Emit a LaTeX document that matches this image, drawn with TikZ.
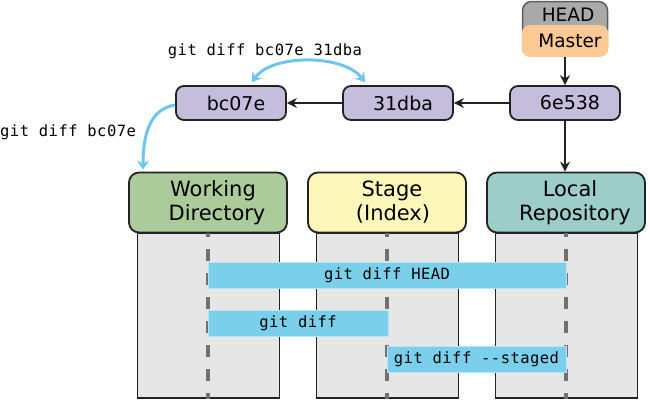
\documentclass[tikz,border=0pt]{standalone}
\usepackage{fontspec}
\setmainfont{DejaVu Sans}
\newfontfamily\monof[LetterSpace=3]{DejaVu Sans Mono}
\usetikzlibrary{arrows.meta}
\definecolor{linedark}{HTML}{222222}
\definecolor{headfill}{HTML}{A9A9A9}
\definecolor{headline}{HTML}{5E5E5E}
\definecolor{masterfill}{HTML}{FDC995}
\definecolor{commitfill}{HTML}{C5BDDC}
\definecolor{wdfill}{HTML}{ACCB9B}
\definecolor{stagefill}{HTML}{FDF7BA}
\definecolor{localfill}{HTML}{9CCDC8}
\definecolor{colfill}{HTML}{E6E6E6}
\definecolor{dashgray}{HTML}{707070}
\definecolor{barblue}{HTML}{7ACFEA}
\definecolor{arrowblue}{HTML}{6EC6EE}
\begin{document}
\begin{tikzpicture}[x=1pt,y=-1pt,
  commit/.style={draw=linedark, line width=1.8pt, fill=commitfill, rounded corners=8pt,
    minimum width=110pt, minimum height=34pt, inner sep=0pt, font=\fontsize{19}{22}\selectfont},
  hdr/.style={draw=linedark, line width=1.8pt, rounded corners=10pt, minimum width=158pt,
    minimum height=60pt, inner sep=0pt, align=center, font=\fontsize{21}{24}\selectfont},
  colbox/.style={draw=linedark, line width=1.6pt, fill=colfill, minimum width=142pt,
    minimum height=165pt, inner sep=0pt},
  bar/.style={fill=barblue, draw=barblue!55!white, line width=0.8pt, minimum height=26pt,
    inner sep=0pt, font=\monof\fontsize{15.5}{18}\selectfont},
  dashline/.style={draw=dashgray, line width=3.6pt, dash pattern=on 12pt off 12pt, dash phase=8pt},
  blk/.style={draw=linedark, line width=1.8pt, -{Stealth[length=10pt,width=10pt]}},
  blu/.style={draw=arrowblue, line width=3pt},
  lbl/.style={inner sep=0pt, font=\monof\fontsize{15.5}{18}\selectfont}
]
\useasboundingbox (0,0) rectangle (650,400);

% columns
\node[colbox] (wdcol) at (208.5,315.5) {};
\node[colbox] (stcol) at (387.5,315.5) {};
\node[colbox] (lrcol) at (566.5,315.5) {};

% headers
\node[hdr, fill=wdfill] (wd) at (208,202.5) {\hspace*{10pt}Working\\\hspace*{18pt}Directory};
\node[hdr, fill=stagefill] (st) at (387,202.5) {\hspace*{10pt}Stage\\\hspace*{12pt}(Index)};
\node[hdr, fill=localfill] (lr) at (566,202.5) {\hspace*{8pt}Local\\\hspace*{18pt}Repository};

% dashed lines
\draw[dashline] (wd.south) -- (wd.south |- wdcol.south);
\draw[dashline] (st.south) -- (st.south |- stcol.south);
\draw[dashline] (lr.south) -- (lr.south |- lrcol.south);

% bars
\node[bar, minimum width=358pt] (bhead) at (387,275.7) {git diff HEAD};
\node[bar, minimum width=180pt] (bdiff) at (298,323) {git diff};
\node[bar, minimum width=179pt] (bstaged) at (476.5,359.7) {git diff -{}-staged};

% HEAD / Master
\node[draw=headline, line width=1.5pt, fill=headfill, rounded corners=9pt, minimum width=85pt,
  minimum height=38pt, inner sep=0pt] (head) at (565,20.5) {};
\node[fill=masterfill, rounded corners=9pt, minimum width=87pt, minimum height=32pt,
  inner sep=0pt, font=\fontsize{18.5}{22}\selectfont] (master) at (565,41) {\hspace*{10pt}Master};
\node[inner sep=0pt, font=\fontsize{18.5}{22}\selectfont] (headtxt) at (568,14.5) {HEAD};

% commits
\node[commit] (c3) at (565,103) {\hspace*{10pt}6e538};
\node[commit] (c2) at (398,103) {\hspace*{10pt}31dba};
\node[commit] (c1) at (231,103) {\hspace*{10pt}bc07e};

% black arrows
\draw[blk] (master.south) -- (master.south |- c3.north);
\draw[blk] (c3.west) -- (c2.east);
\draw[blk] (c2.west) -- (c1.east);
\draw[blk] (c3.south) -- (c3.south |- lr.north);

% blue arrows
\draw[blu, {Stealth[length=9pt,width=12pt]}-{Stealth[length=9pt,width=12pt]}]
  ([xshift=21pt,yshift=3pt]c1.north) .. controls (272,54) and (343,54) .. ([xshift=-33pt,yshift=3pt]c2.north);
\draw[blu, -{Stealth[length=9pt,width=12pt]}]
  ([yshift=-2pt]c1.west) .. controls (156,108) and (143,124) .. ([xshift=-65pt,yshift=2pt]wd.north);

% labels
\node[lbl] (l1) at (265,51) {git diff bc07e 31dba};
\node[lbl, anchor=west] (l2) at (0,132) {git diff bc07e};
\end{tikzpicture}
\end{document}
